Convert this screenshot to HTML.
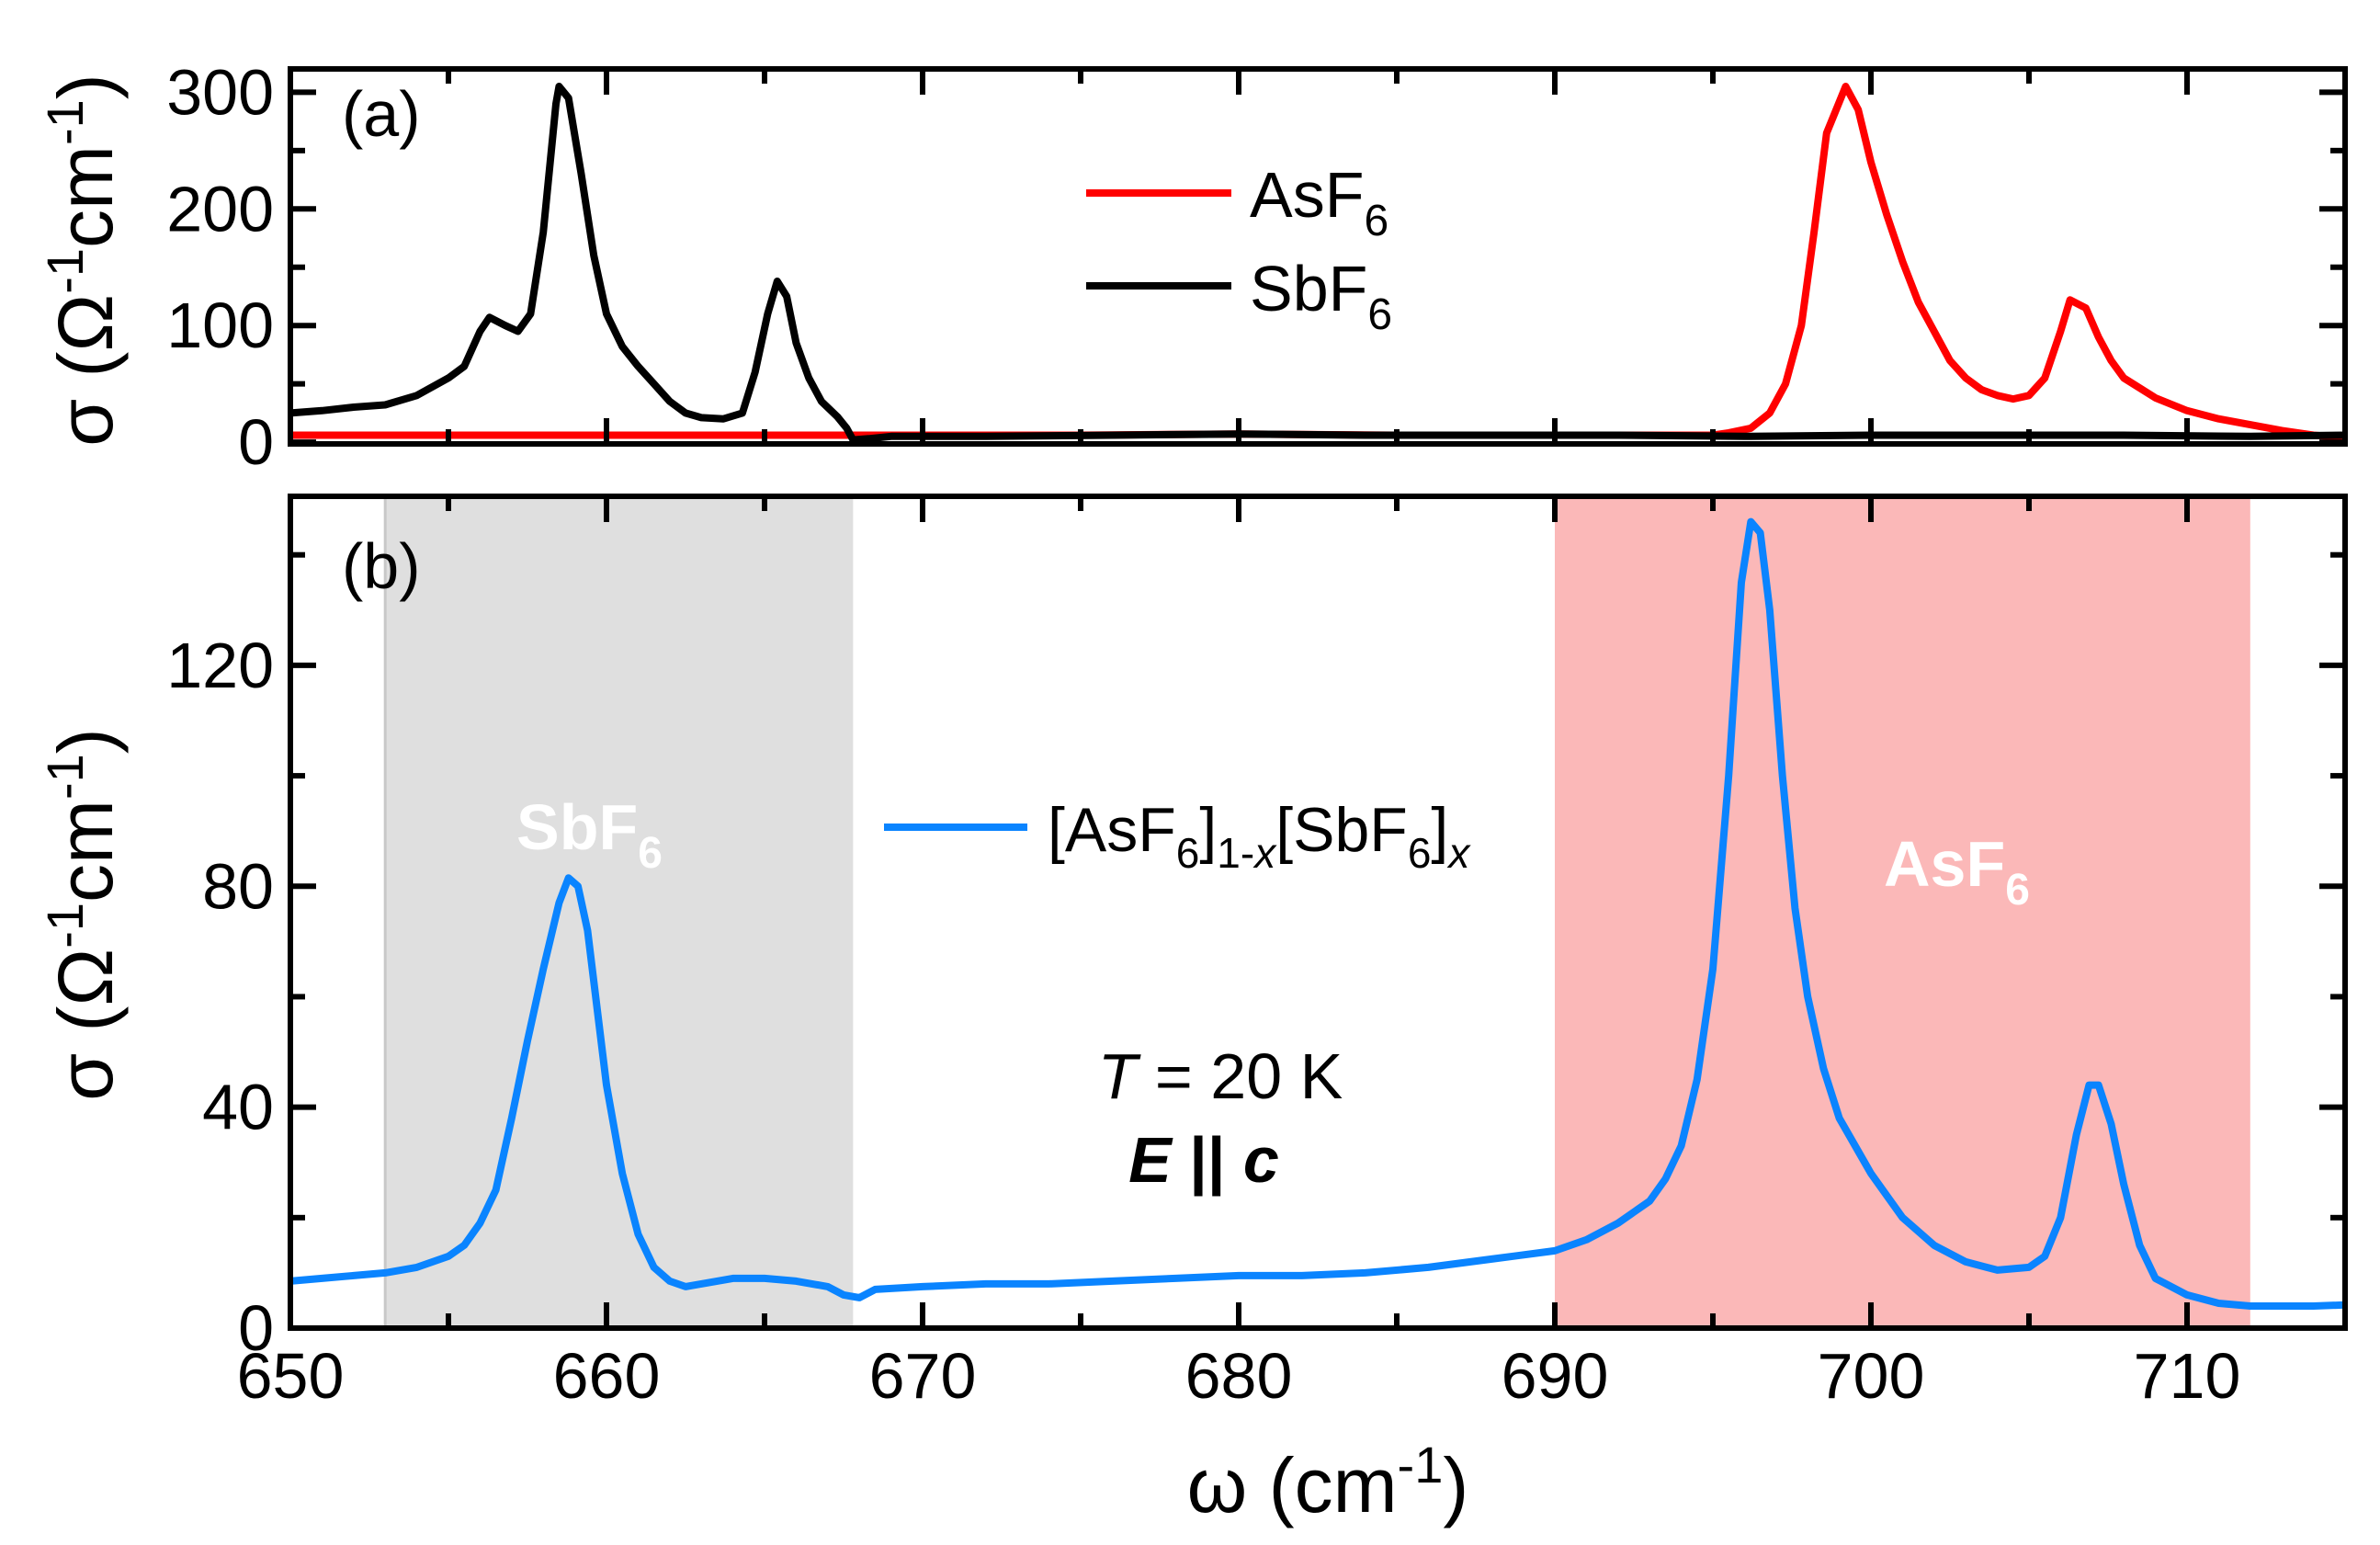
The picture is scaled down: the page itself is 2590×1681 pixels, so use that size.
<!DOCTYPE html>
<html><head><meta charset="utf-8">
<style>
html,body{margin:0;padding:0;background:#fff;}
svg{display:block;font-family:"Liberation Sans",Arial,sans-serif;}
</style></head>
<body>
<svg id="chart" width="2590" height="1681" viewBox="0 0 2590 1681" xmlns="http://www.w3.org/2000/svg">
<g id="bg"></g>
<g id="marks"></g>
<g id="axes"></g>
<g id="texts">
  <text x="372" y="148" font-size="70">(a)</text>
  <text x="372" y="640" font-size="70">(b)</text>
  <line x1="1182" y1="210" x2="1340" y2="210" stroke="#ff0000" stroke-width="8"/>
  <text x="1360" y="236" font-size="70">AsF<tspan font-size="48" dy="20">6</tspan></text>
  <line x1="1182" y1="311" x2="1340" y2="311" stroke="#000" stroke-width="8"/>
  <text x="1360" y="338" font-size="70">SbF<tspan font-size="48" dy="20">6</tspan></text>
  <line x1="962" y1="900" x2="1118" y2="900" stroke="#0a84ff" stroke-width="8"/>
  <text x="1140" y="926" font-size="68">[AsF<tspan font-size="46" dy="18">6</tspan><tspan dy="-18">]</tspan><tspan font-size="46" dy="18">1-<tspan font-style="italic">x</tspan></tspan><tspan dy="-18">[SbF</tspan><tspan font-size="46" dy="18">6</tspan><tspan dy="-18">]</tspan><tspan font-size="46" dy="18" font-style="italic">x</tspan></text>
  <text x="562" y="924" font-size="70" font-weight="bold" fill="#fff">SbF<tspan font-size="48" dy="20">6</tspan></text>
  <text x="2050" y="964" font-size="70" font-weight="bold" fill="#fff">AsF<tspan font-size="48" dy="20">6</tspan></text>
  <text x="1328" y="1195" font-size="70" text-anchor="middle"><tspan font-style="italic">T</tspan> = 20 K</text>
  <text x="1310" y="1286" font-size="70" text-anchor="middle" font-weight="bold" font-style="italic">E<tspan font-style="normal"> || </tspan>c</text>
  <text x="1445" y="1645" font-size="84" text-anchor="middle">ω (cm<tspan font-size="56" dy="-32">-1</tspan><tspan dy="32">)</tspan></text>
  <text transform="translate(122,283) rotate(-90)" font-size="84" text-anchor="middle">σ (Ω<tspan font-size="56" dy="-32">-1</tspan><tspan dy="32">cm</tspan><tspan font-size="56" dy="-32">-1</tspan><tspan dy="32">)</tspan></text>
  <text transform="translate(122,995) rotate(-90)" font-size="84" text-anchor="middle">σ (Ω<tspan font-size="56" dy="-32">-1</tspan><tspan dy="32">cm</tspan><tspan font-size="56" dy="-32">-1</tspan><tspan dy="32">)</tspan></text>
</g>
</svg>
<script>
// ---- data ----
const sbX = [650,651,652,653,654,655,655.5,656,656.3,656.8,657.2,657.6,658,658.4,658.5,658.8,659.2,659.6,660,660.5,661,661.5,662,662.5,663,663.7,664.3,664.7,665.1,665.4,665.7,666,666.4,666.8,667.3,667.6,667.8,668.3,669,672,676,680,684,688,692,696,700,704,708,712,715];
const sbY = [25,27,30,32,40,55,65,95,107,100,95,110,180,290,305,295,230,160,110,82,65,50,35,25,21,20,25,60,110,138,125,85,55,35,22,12,2,3,5,5,6,7,6,6,6,5,6,6,6,5,6];
const asX = [650,655,660,665,670,675,680,685,690,695,695.5,696.2,696.8,697.3,697.8,698.2,698.6,699.2,699.6,700,700.5,701,701.5,702,702.5,703,703.5,704,704.5,705,705.5,706,706.3,706.8,707.2,707.6,708,709,710,711,712,713,714,715];
const asY = [6,6,6,6,6,6,7,6,6,6,8,12,25,50,100,180,265,305,285,240,195,155,120,95,70,55,45,40,37,40,55,95,122,115,90,70,55,38,27,20,15,10,6,4];
const mxX = [650,651,652,653,654,655,655.5,656,656.5,657,657.5,658,658.5,658.8,659.1,659.4,659.7,660,660.5,661,661.5,662,662.5,663,663.5,664,665,666,667,667.5,668,668.5,670,672,674,676,678,680,682,684,686,688,690,691,692,693,693.5,694,694.5,695,695.5,695.9,696.2,696.5,696.8,697.2,697.6,698,698.5,699,700,701,702,703,704,705,705.5,706,706.5,706.9,707.2,707.6,708,708.5,709,710,711,712,714,715];
const mxY = [8.5,9,9.5,10,11,13,15,19,25,38,52,65,77,81.5,80,72,58,44,28,17,11,8.5,7.5,8,8.5,9,9,8.5,7.5,6,5.5,7,7.5,8,8,8.5,9,9.5,9.5,10,11,12.5,14,16,19,23,27,33,45,65,100,135,146,144,130,100,76,60,47,38,28,20,15,12,10.5,11,13,20,35,44,44,37,26,15,9,6,4.5,4,4,4.2];
const xTicks = [650,660,670,680,690,700,710];
const topTicks = [0,100,200,300];
const botTicks = [0,40,80,120];
const shadeSb = [653,667.8];
const shadeAs = [690,712];

// ---- axes geometry ----
const L=316, R=2552;
const T1=75, B1=483, T2=540, B2=1445;
const xs = v => L + (v-650)/(715-650)*(R-L);
const y1 = v => B1 - (v-(-1.5))/(320-(-1.5))*(B1-T1);
const y2 = v => B2 - (v-0)/(150.6-0)*(B2-T2);
const NS='http://www.w3.org/2000/svg';
function mk(tag, parent, attrs){const e=document.createElementNS(NS,tag);for(const k in attrs)e.setAttribute(k,attrs[k]);parent.appendChild(e);return e;}
const bg=document.getElementById('bg'), marks=document.getElementById('marks'), axes=document.getElementById('axes');

let r=mk('rect',bg,{x:xs(shadeSb[0]),y:T2,width:xs(shadeSb[1])-xs(shadeSb[0]),height:B2-T2,fill:'#dfdfdf'});


let ln=mk('line',bg,{x1:xs(shadeSb[0]),y1:T2,x2:xs(shadeSb[0]),y2:B2,stroke:'#c8c8c8','stroke-width':3});


r=mk('rect',bg,{x:xs(shadeAs[0]),y:T2,width:xs(shadeAs[1])-xs(shadeAs[0]),height:B2-T2,fill:'#fbb8b8'});



function path(X,Y,fy){return X.map((v,i)=>(i?'L':'M')+xs(v).toFixed(1)+','+fy(Y[i]).toFixed(1)).join(' ');}
let p=mk('path',marks,{d:path(asX,asY,y1),fill:'none',stroke:'#ff0000','stroke-width':8,'stroke-linejoin':'round'});


p=mk('path',marks,{d:path(sbX,sbY,y1),fill:'none',stroke:'#000','stroke-width':8,'stroke-linejoin':'round'});


p=mk('path',marks,{d:path(mxX,mxY,y2),fill:'none',stroke:'#0a84ff','stroke-width':8,'stroke-linejoin':'round'});



[[T1,B1],[T2,B2]].forEach((tb,i)=>{
  const f=mk('rect',axes,{x:L,y:tb[0],width:R-L,height:tb[1]-tb[0],fill:'none',stroke:'#000','stroke-width':6});
  
  
  for(let v=650; v<=715; v+=5){
    const major = v%10===0; const len = major?28:16;
    mk('line',axes,{x1:xs(v),y1:tb[1],x2:xs(v),y2:tb[1]-len,stroke:'#000','stroke-width':6});
    mk('line',axes,{x1:xs(v),y1:tb[0],x2:xs(v),y2:tb[0]+len,stroke:'#000','stroke-width':6});
  }
});
for(let v=0; v<=300; v+=50){
  const len = v%100===0?28:16;
  mk('line',axes,{x1:L,y1:y1(v),x2:L+len,y2:y1(v),stroke:'#000','stroke-width':6});
  mk('line',axes,{x1:R,y1:y1(v),x2:R-len,y2:y1(v),stroke:'#000','stroke-width':6});
}
for(let v=0; v<=140; v+=20){
  const len = v%40===0?28:16;
  mk('line',axes,{x1:L,y1:y2(v),x2:L+len,y2:y2(v),stroke:'#000','stroke-width':6});
  mk('line',axes,{x1:R,y1:y2(v),x2:R-len,y2:y2(v),stroke:'#000','stroke-width':6});
}
topTicks.forEach(v=>{
  const t=mk('text',axes,{x:298,y:y1(v)+24,'font-size':70,'text-anchor':'end'});
  t.textContent=v;
  
  
});
botTicks.forEach(v=>{
  const t=mk('text',axes,{x:298,y:y2(v)+24,'font-size':70,'text-anchor':'end'});
  t.textContent=v;
  
  
});
xTicks.forEach(v=>{
  const t=mk('text',axes,{x:xs(v),y:1521,'font-size':70,'text-anchor':'middle'});
  t.textContent=v;
  
  
});
</script>
</body></html>
